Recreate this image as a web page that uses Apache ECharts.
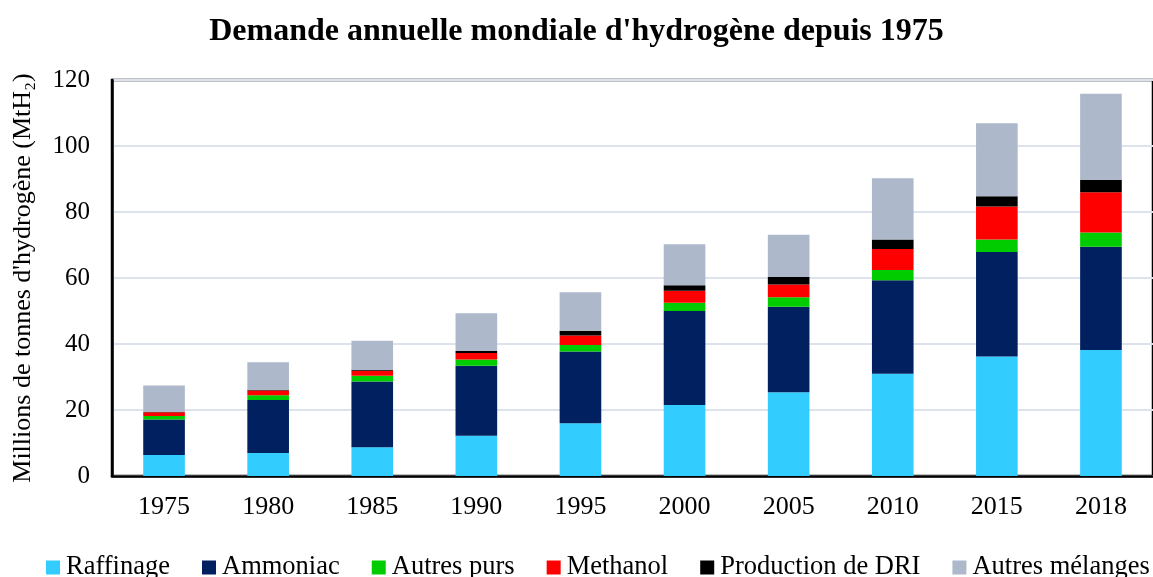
<!DOCTYPE html>
<html>
<head>
<meta charset="utf-8">
<script src="https://cdn.jsdelivr.net/npm/echarts@6/dist/echarts.min.js"></script>
<style>
    html, body { margin: 0; padding: 0; background: #fff; }
    #chart { width: 1153px; height: 577px; }
</style>
</head>
<body>
<div id="chart"></div>
<script>
// années
const years = ['1975', '1980', '1985', '1990', '1995', '2000', '2005', '2010', '2015', '2018'];
// valeurs en MtH2
const raffinage = [6.4, 7.0, 8.7, 12.2, 16.0, 21.5, 25.4, 31.0, 36.2, 38.2];
const ammoniac = [10.7, 16.0, 19.9, 21.2, 21.7, 28.5, 25.9, 28.3, 31.7, 31.3];
const autresPurs = [1.1, 1.5, 1.8, 1.9, 2.0, 2.5, 2.9, 3.1, 3.8, 4.3];
const methanol = [1.1, 1.4, 1.5, 2.0, 2.9, 3.6, 3.8, 6.4, 10.0, 12.2];
const dri = [0.1, 0.2, 0.2, 0.6, 1.4, 1.7, 2.3, 2.9, 3.1, 3.8];
const autresMelanges = [8.0, 8.4, 8.9, 11.4, 11.7, 12.4, 12.8, 18.5, 22.1, 26.0];

const font = 'Liberation Serif';

function serie(name, data, color) {
    return {
        name: name,
        type: 'bar',
        stack: 'total',
        barWidth: '40%',
        data: data,
        itemStyle: { color: color }
    };
}

const chart = echarts.init(document.getElementById('chart'), null, { renderer: 'canvas' });
chart.setOption({
    backgroundColor: '#fff',
    animation: false,
    title: {
        text: "Demande annuelle mondiale d'hydrogène depuis 1975",
        left: 'center',
        top: 11,
        textStyle: { fontFamily: font, fontWeight: 'bold', fontSize: 32, color: '#000' }
    },
    legend: {
        top: 549,
        left: 41,
        width: 1300,
        itemWidth: 14,
        itemHeight: 14,
        itemGap: 32,
        icon: 'rect',
        textStyle: { fontFamily: font, fontSize: 26.5, color: '#000', padding: [0, 0, 0, 1] }
    },
    grid: {
        left: 112, top: 80, right: -2, bottom: 101,
        show: true, borderColor: '#000', borderWidth: 2.5
    },
    xAxis: {
        type: 'category',
        data: years,
        axisLine: { lineStyle: { color: '#000', width: 2.5 } },
        axisTick: { show: false },
        axisLabel: { fontFamily: font, fontSize: 26, color: '#000', margin: 18 }
    },
    yAxis: {
        type: 'value',
        min: 0, max: 120, interval: 20,
        name: "Millions de tonnes d'hydrogène (MtH₂)",
        nameLocation: 'middle',
        nameGap: 76,
        nameTextStyle: { fontFamily: font, fontSize: 26, color: '#000' },
        axisLine: { show: true, lineStyle: { color: '#000', width: 2.5 } },
        axisTick: { show: false },
        axisLabel: { fontFamily: font, fontSize: 25, color: '#000', margin: 22 },
        splitLine: { lineStyle: { color: '#dde3ec', width: 2 } }
    },
    series: [
        serie('Raffinage', raffinage, '#33ccff'),
        serie('Ammoniac', ammoniac, '#002060'),
        serie('Autres purs', autresPurs, '#00cc00'),
        serie('Methanol', methanol, '#ff0000'),
        serie('Production de DRI', dri, '#000000'),
        serie('Autres mélanges', autresMelanges, '#adb9ca')
    ]
});
</script>
</body>
</html>
